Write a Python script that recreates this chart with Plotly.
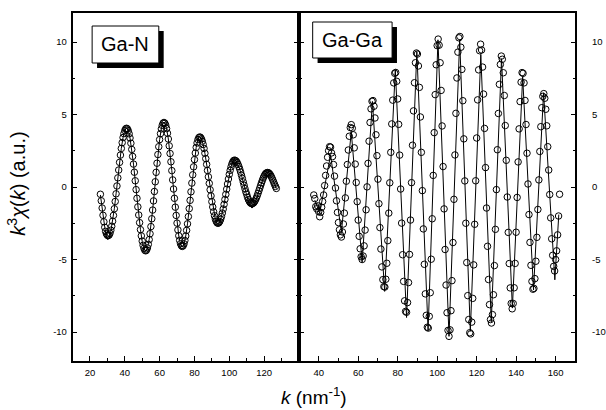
import numpy as np
import plotly.graph_objects as go

W, H = 606, 410

# ---------------- Ga-N shell (left panel) ----------------
# experimental k^3*chi(k) on a 0.5 nm^-1 grid
ga_n_k = np.arange(26.0, 127.0 + 0.25, 0.5)
ga_n_data = [
    -0.50, -0.95, -1.45, -1.95, -2.40, -2.78, -3.06, -3.24, -3.33, -3.35,
    -3.31, -3.19, -2.98, -2.71, -2.36, -1.96, -1.50, -1.00, -0.47, 0.07,
    0.63, 1.17, 1.70, 2.20, 2.66, 3.06, 3.41, 3.68, 3.89, 4.01, 4.05,
    4.01, 3.88, 3.67, 3.38, 3.02, 2.59, 2.11, 1.58, 1.02, 0.43, -0.18,
    -0.78, -1.37, -1.93, -2.46, -2.94, -3.37, -3.73, -4.02, -4.23, -4.36, -4.40,
    -4.35, -4.20, -3.96, -3.63, -3.22, -2.73, -2.19, -1.59, -0.96, -0.31,
    0.36, 1.01, 1.64, 2.24, 2.78, 3.27, 3.68, 4.01, 4.25, 4.40, 4.45,
    4.40, 4.26, 4.03, 3.71, 3.31, 2.84, 2.31, 1.74, 1.13, 0.49, -0.14,
    -0.78, -1.39, -1.96, -2.49, -2.96, -3.36, -3.68, -3.91, -4.05, -4.10,
    -4.05, -3.92, -3.69, -3.38, -2.99, -2.54, -2.04, -1.49, -0.92, -0.33,
    0.27, 0.84, 1.39, 1.89, 2.34, 2.73, 3.04, 3.27, 3.40, 3.45,
    3.42, 3.32, 3.16, 2.93, 2.66, 2.33, 1.96, 1.56, 1.14, 0.70, 0.25,
    -0.19, -0.61, -1.01, -1.38, -1.71, -1.98, -2.21, -2.37, -2.47, -2.50,
    -2.47, -2.38, -2.24, -2.04, -1.80, -1.52, -1.20, -0.86, -0.51, -0.15,
    0.21, 0.55, 0.87, 1.15, 1.39, 1.59, 1.73, 1.82, 1.85,
    1.83, 1.78, 1.69, 1.56, 1.41, 1.23, 1.03, 0.81, 0.59, 0.35,
    0.12, -0.11, -0.33, -0.51, -0.71, -0.87, -0.99, -1.08, -1.13, -1.15,
    -1.13, -1.09, -1.01, -0.90, -0.77, -0.61, -0.44, -0.26, -0.08,
    0.11, 0.29, 0.46, 0.62, 0.75, 0.86, 0.94, 0.98, 1.00,
    0.98, 0.93, 0.85, 0.75, 0.62, 0.48, 0.33, 0.18, 0.04, -0.10,
]
# fitted curve, 1 nm^-1 steps
ga_n_fit_k = np.arange(26.0, 127.0 + 0.5, 1.0)
ga_n_fit = [
    -0.55, -1.50, -2.45, -3.20, -3.62, -3.55, -3.05, -2.38, -1.50, -0.47,
    0.63, 1.70, 2.66, 3.41, 3.90, 4.07, 3.90, 3.38, 2.59, 1.58,
    0.43, -0.78, -1.93, -2.94, -3.75, -4.27, -4.45, -4.22, -3.63, -2.73,
    -1.59, -0.31, 1.01, 2.24, 3.27, 4.03, 4.45, 4.43, 4.03, 3.31,
    2.31, 1.13, -0.14, -1.39, -2.49, -3.38, -3.95, -4.15, -3.95, -3.38,
    -2.54, -1.49, -0.33, 0.84, 1.89, 2.73, 3.29, 3.48, 3.33, 2.93,
    2.33, 1.56, 0.70, -0.19, -1.01, -1.73, -2.25, -2.55, -2.55, -2.28,
    -1.80, -1.20, -0.51, 0.21, 0.87, 1.40, 1.76, 1.90, 1.80, 1.56,
    1.22, 0.80, 0.33, -0.15, -0.62, -1.03, -1.32, -1.45, -1.35, -1.05,
    -0.68, -0.28, 0.11, 0.46, 0.77, 0.97, 1.04, 0.95, 0.75, 0.48,
    0.18, -0.12,
]

# ---------------- Ga-Ga shell (right panel) ----------------
ga_ga_k = np.arange(37.5, 162.0 + 0.25, 0.5)
ga_ga_data = [
    -0.55, -0.80, -1.35, -1.50, -1.30, -1.70, -2.05,
    -1.75, -1.40, -1.00, -0.55, 0.10, 0.80, 1.45, 2.05, 2.50, 2.78,
    2.75, 2.35, 2.10, 1.55, 0.75, -0.07, -0.95, -1.75, -2.45, -2.95, -3.30, -3.45,
    -3.10, -2.55, -1.80, -0.75, 0.40, 1.55, 2.55, 3.50, 4.10, 4.30,
    4.05, 3.60, 2.70, 1.58, 0.31, -1.01, -2.28, -3.40, -4.26, -4.81, -5.00,
    -4.76, -4.06, -2.97, -1.57, 0.01, 1.63, 3.16, 4.45, 5.39, 5.91,
    5.96, 5.57, 4.76, 3.60, 2.16, 0.54, -1.15, -2.80, -4.28, -5.51, -6.39, -6.87,
    -6.90, -6.36, -5.26, -3.70, -1.80, 0.29, 2.39, 4.35, 5.99, 7.18, 7.84,
    7.90, 7.29, 6.07, 4.32, 2.20, -0.14, -2.49, -4.67, -6.51, -7.85, -8.58,
    -8.64, -7.97, -6.59, -4.65, -2.28, 0.30, 2.88, 5.25, 7.19, 8.57, 9.24,
    9.17, 8.35, 6.87, 4.83, 2.39, -0.25, -2.89, -5.33, -7.37, -8.85, -9.67,
    -9.73, -8.92, -7.29, -4.98, -2.19, 0.80, 3.75, 6.37, 8.43, 9.75, 10.20,
    9.78, 8.57, 6.66, 4.21, 1.41, -1.51, -4.31, -6.76, -8.67, -9.89, -10.30,
    -9.85, -8.53, -6.46, -3.83, -0.85, 2.21, 5.08, 7.52, 9.30, 10.29,
    10.38, 9.64, 8.11, 5.95, 3.32, 0.42, -2.50, -5.21, -7.49, -9.14, -10.05,
    -10.13, -9.32, -7.68, -5.37, -2.57, 0.43, 3.38, 6.01, 8.08, 9.40, 9.85,
    9.45, 8.27, 6.41, 4.04, 1.34, -1.45, -4.09, -6.38, -8.11, -9.14,
    -9.38, -8.80, -7.43, -5.42, -2.92, -0.18, 2.57, 5.07, 7.08, 8.45, 9.03,
    8.81, 7.88, 6.31, 4.24, 1.84, -0.69, -3.13, -5.28, -6.96, -8.03, -8.40,
    -8.03, -6.95, -5.27, -3.12, -0.72, 1.73, 4.01, 5.89, 7.23, 7.89,
    7.84, 7.18, 5.97, 4.31, 2.33, 0.21, -1.90, -3.82, -5.40, -6.51, -7.05,
    -6.99, -6.32, -5.12, -3.47, -1.55, 0.49, 2.45, 4.16, 5.47, 6.25,
    6.44, 6.12, 5.36, 4.22, 2.78, 1.17, -0.52, -2.13, -3.57, -4.71, -5.47, -5.79,
    -5.00, -4.40, -3.30, -2.00, -0.50,
]
# fitted curve vertices
ga_ga_fit_k = [38.0, 40.5, 46.0, 51.5, 56.5, 62.0, 67.2, 73.4, 78.8, 84.5,
               89.7, 95.4, 100.4, 106.0, 111.4, 116.8, 122.1, 127.4, 132.6,
               138.1, 143.3, 148.8, 153.9, 159.6, 161.6]
ga_ga_fit = [-0.9, -1.8, 2.2, -3.1, 3.8, -5.2, 5.9, -7.2, 8.1, -9.0,
             9.35, -9.9, 10.15, -10.3, 10.15, -9.95, 9.15, -9.3, 8.85,
             -8.35, 7.6, -7.1, 6.5, -6.4, -1.9]

assert len(ga_n_k) == len(ga_n_data)
assert len(ga_n_fit_k) == len(ga_n_fit)
assert len(ga_ga_k) == len(ga_ga_data)
assert len(ga_ga_fit_k) == len(ga_ga_fit)

# ---------------- axes ticks ----------------
y_ticks = [-10, -5, 0, 5, 10]
y_tick_text = ["-10", "-5", "0", "5", "10"]
y_minor = [-7.5, -2.5, 2.5, 7.5]
ga_n_xticks = [20, 40, 60, 80, 100, 120]
ga_n_xminor = [30, 50, 70, 90, 110, 130]
ga_ga_xticks = [40, 60, 80, 100, 120, 140, 160]
ga_ga_xminor = [50, 70, 90, 110, 130, 150]

FONT = "Arial, Liberation Sans, sans-serif"


def px_x(p):
    return p / W


def px_y(p):
    return 1 - p / H


x1_dom = [px_x(74), px_x(305)]
x2_dom = [px_x(305), px_x(587)]
y_dom = [px_y(361), px_y(13)]

marker_style = dict(symbol="circle-open", size=6.5, color="black",
                    line=dict(width=1, color="black"))
line_style = dict(color="black", width=1)

fig = go.Figure()
fig.add_trace(go.Scatter(x=ga_n_fit_k, y=ga_n_fit, mode="lines", line=line_style,
                         xaxis="x", yaxis="y", showlegend=False))
fig.add_trace(go.Scatter(x=ga_n_k, y=ga_n_data, mode="markers", marker=marker_style,
                         xaxis="x", yaxis="y", showlegend=False))
fig.add_trace(go.Scatter(x=ga_ga_fit_k, y=ga_ga_fit, mode="lines", line=line_style,
                         xaxis="x2", yaxis="y2", showlegend=False))
fig.add_trace(go.Scatter(x=ga_ga_k, y=ga_ga_data, mode="markers", marker=marker_style,
                         xaxis="x2", yaxis="y2", showlegend=False))

tickfont = dict(family=FONT, size=9.5, color="black")
common_axis = dict(showgrid=False, zeroline=False, showline=True, linecolor="black",
                   linewidth=1.5, ticks="inside", tickcolor="black", tickwidth=1,
                   ticklen=5, tickfont=tickfont, tickmode="array")


def xaxis(domain, rng, ticks, minor, anchor):
    return dict(common_axis, domain=domain, range=rng, tickvals=ticks,
                ticktext=[str(t) for t in ticks], mirror=True, anchor=anchor,
                ticklabelstandoff=2,
                minor=dict(tickvals=minor, ticks="inside", ticklen=3,
                           tickcolor="black", tickwidth=1))


def yaxis(anchor, side, standoff):
    return dict(common_axis, domain=y_dom, range=[-12, 12], tickvals=y_ticks,
                ticktext=y_tick_text, mirror="ticks", anchor=anchor, side=side,
                ticklabelstandoff=standoff,
                minor=dict(tickvals=y_minor, ticks="inside", ticklen=3,
                           tickcolor="black", tickwidth=1))


fig.update_layout(
    width=W, height=H,
    margin=dict(l=0, r=0, t=0, b=0),
    paper_bgcolor="white", plot_bgcolor="white",
    xaxis=xaxis(x1_dom, [10, 140], ga_n_xticks, ga_n_xminor, "y"),
    yaxis=yaxis("x", "left", 2),
    xaxis2=xaxis(x2_dom, [30, 170], ga_ga_xticks, ga_ga_xminor, "y2"),
    yaxis2=yaxis("x2", "right", 13),
)

# shell labels: white box with a black drop shadow
shapes = []
annotations = []
for label, (x0, y0, x1, y1) in [("Ga-N", (94, 26, 162, 63)),
                                ("Ga-Ga", (319, 22, 400, 58))]:
    shapes.append(dict(type="rect", xref="paper", yref="paper",
                       x0=px_x(x0 + 5), x1=px_x(x1 + 5), y0=px_y(y1 + 5), y1=px_y(y0 + 5),
                       fillcolor="black", line=dict(width=0)))
    shapes.append(dict(type="rect", xref="paper", yref="paper",
                       x0=px_x(x0), x1=px_x(x1), y0=px_y(y1), y1=px_y(y0),
                       fillcolor="white", line=dict(color="black", width=1)))
    annotations.append(dict(text=label, xref="paper", yref="paper",
                            x=px_x((x0 + x1) / 2), y=px_y((y0 + y1) / 2),
                            xanchor="center", yanchor="middle", showarrow=False,
                            font=dict(family=FONT, size=20, color="black")))

annotations.append(dict(text="<i>k</i><sup>3</sup><i>χ</i>(<i>k</i>) (a.u.)",
                        xref="paper", yref="paper", x=px_x(17), y=px_y(184),
                        xanchor="center", yanchor="middle", textangle=-90,
                        showarrow=False, font=dict(family=FONT, size=20, color="black")))
annotations.append(dict(text="<i>k</i> (nm<sup>-1</sup>)",
                        xref="paper", yref="paper", x=px_x(320), y=px_y(396),
                        xanchor="center", yanchor="middle",
                        showarrow=False, font=dict(family=FONT, size=19, color="black")))

fig.update_layout(shapes=shapes, annotations=annotations)

fig.write_html("out.html")
